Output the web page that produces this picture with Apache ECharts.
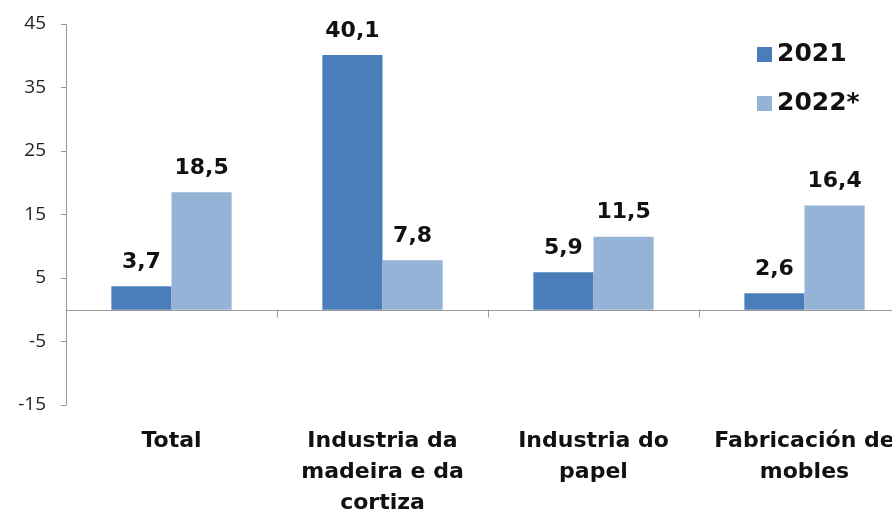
<!DOCTYPE html>
<html lang="gl">
<head>
    <meta charset="UTF-8">
    <title>Variación por sector</title>
    <style>
        html, body { margin: 0; padding: 0; background: #ffffff; }
        #chart { width: 892px; height: 516px; }
    </style>
</head>
<body>
<div id="chart"></div>
<script src="https://cdn.jsdelivr.net/npm/echarts@6/dist/echarts.min.js"></script>
<script>
    // datos
    var categorias = ['Total', 'Industria da\nmadeira e da\ncortiza', 'Industria do\npapel', 'Fabricación de\nmobles'];
    var anos = ['2021', '2022*'];
    var datos2021 = [3.7, 40.1, 5.9, 2.6];
    var datos2022 = [18.5, 7.8, 11.5, 16.4];
    var ticksY = [-15, -5, 5, 15, 25, 35, 45];

    var cores = ['#4a7ebb', '#95b3d7'];
    var fonte = '"DejaVu Sans", sans-serif';

    function coma(p) {
        return String(p.value.toFixed(1)).replace('.', ',');
    }

    var etiqueta = {
        show: true,
        position: 'top',
        distance: 13,
        formatter: coma,
        fontFamily: fonte,
        fontSize: 22,
        fontWeight: 'bold',
        color: '#111'
    };

    var chart = echarts.init(document.getElementById('chart'));
    var option = {
        animation: false,
        color: cores,
        legend: {
            data: anos,
            orient: 'vertical',
            left: 752,
            top: 37,
            itemWidth: 15,
            itemHeight: 15,
            itemGap: 24,
            icon: 'rect',
            textStyle: {
                fontFamily: fonte,
                fontSize: 25,
                fontWeight: 'bold',
                color: '#111'
            }
        },
        grid: {
            left: 66,
            right: -18,
            top: 24,
            bottom: 111,
            outerBoundsMode: 'none'
        },
        xAxis: [
            {
                type: 'category',
                data: categorias,
                axisLine: { onZero: true, lineStyle: { color: '#999', width: 1 } },
                axisTick: { show: true, length: 8, lineStyle: { color: '#999' } },
                axisLabel: { show: false }
            },
            {
                type: 'category',
                data: categorias,
                position: 'bottom',
                axisLine: { show: false, onZero: false },
                axisTick: { show: false },
                axisLabel: {
                    margin: 21,
                    interval: 0,
                    fontFamily: fonte,
                    fontSize: 22,
                    fontWeight: 'bold',
                    lineHeight: 31,
                    color: '#111'
                }
            }
        ],
        yAxis: {
            type: 'value',
            min: -15,
            max: 45,
            splitLine: { show: false },
            axisLine: { show: true, lineStyle: { color: '#999' } },
            axisTick: { show: true, length: 5, customValues: ticksY, lineStyle: { color: '#999' } },
            axisLabel: {
                customValues: ticksY,
                margin: 20,
                fontFamily: '"Open Sans", sans-serif',
                fontSize: 19,
                color: '#222'
            }
        },
        series: [
            {
                name: anos[0],
                type: 'bar',
                xAxisIndex: 0,
                data: datos2021,
                barGap: '0%',
                barCategoryGap: '43%',
                label: etiqueta
            },
            {
                name: anos[1],
                type: 'bar',
                xAxisIndex: 0,
                data: datos2022,
                barGap: '0%',
                barCategoryGap: '43%',
                label: etiqueta
            }
        ]
    };
    chart.setOption(option);
</script>
</body>
</html>
